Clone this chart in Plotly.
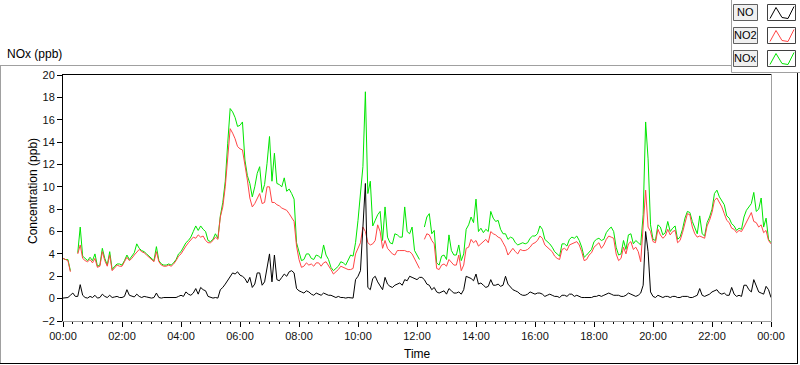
import pandas as pd
import plotly.graph_objects as go

# 5-minute samples, 00:00 -> 24:00 (289 points), one row per hour
times = pd.date_range("2024-01-01 00:00", "2024-01-02 00:00", freq="5min")

no2 = [
    3.6, 3.5, 3.4, 2.4, None, None, 4.0, 4.8, 3.6, 3.4, 3.3, 3.5,
    3.2, 3.6, 2.8, 2.9, 4.2, 3.4, 2.9, 3.9, 2.5, 2.8, 3.0, 2.9,
    2.9, 3.3, 3.7, 3.4, 3.6, 3.9, 4.2, 4.4, 4.2, 4.1, 3.9, 3.7,
    3.5, 3.3, 4.2, 3.3, 3.0, 2.9, 2.9, 3.0, 2.9, 3.1, 3.4, 3.8,
    4.0, 4.4, 4.7, 5.0, 5.3, 5.5, 5.4, 5.7, 5.5, 5.6, 5.2, 5.0,
    5.0, 5.2, 5.5, 5.3, 7.3, 8.2, 10.0, 12.7, 15.2, 14.8, 14.3, 13.6,
    13.4, 13.3, 12.1, 10.6, 9.0, 8.2, 8.5, 9.0, 9.4, 8.5, 8.6, 10.0,
    10.0, 8.6, 8.6, 8.4, 8.3, 8.1, 8.0, 7.9, 7.6, 7.3, 6.9, 4.7,
    3.5, 2.8, 2.9, 3.2, 3.0, 3.1, 2.9, 3.2, 3.2, 2.9, 3.2, 3.3,
    3.0, 2.6, 2.2, 2.4, 2.6, 2.9, 2.8, 2.7, 2.6, 2.6, 2.7, 4.0,
    4.5, 5.0, 6.4, 6.0, 5.0, 4.8, 4.9, 5.2, 6.6, 6.0, 4.5, 5.2,
    4.5, 4.2, 4.0, 3.9, 4.3, 4.3, 4.3, 4.3, 4.2, 4.2, 4.0, 3.6,
    3.2, 2.7, None, 5.3, 5.8, 5.7, 5.2, 4.9, 2.7, 2.6, 3.0, 3.1,
    2.9, 3.5, 3.2, 3.0, 3.0, 3.9, 2.5, 3.0, 4.5, 4.6, 5.3, 5.0,
    5.2, 4.7, 4.9, 5.1, 5.3, 5.0, 6.0, 5.8, 5.7, 5.5, 5.4, 5.0,
    4.6, 3.9, 4.2, 4.5, 4.2, 4.0, 4.4, 4.3, 4.3, 4.4, 4.6, 4.9,
    5.0, 5.2, 5.6, 5.4, 4.8, 4.6, 4.4, 4.2, 3.8, 3.6, 3.5, 4.4,
    4.5, 4.3, 4.8, 4.9, 5.0, 5.1, 4.8, 4.2, 3.4, 3.5, 3.9, 4.1,
    4.6, 4.8, 5.0, 4.5, 4.8, 5.3, 5.6, 5.5, 5.4, 4.0, 3.4, 3.6,
    4.6, 4.0, 4.9, 5.1, 4.4, 4.6, 4.2, 3.3, 6.2, 9.7, 6.4, 6.0,
    5.1, 5.0, 6.2, 5.7, 5.4, 5.6, 6.2, 5.7, 6.0, 6.1, 5.0, 5.2,
    5.9, 6.9, 7.6, 7.5, 6.4, 5.8, 5.5, 5.6, 5.5, 5.4, 6.5, 7.0,
    7.7, 8.8, 9.0, 8.6, 8.2, 7.6, 7.0, 6.8, 6.3, 6.2, 5.9, 6.1,
    6.0, 6.4, 6.8, 7.3, 7.7, 6.9, 6.8, 6.4, 6.6, 5.9, 6.1, 5.2,
    4.9]

nox = [
    3.6, 3.5, 3.5, 2.5, None, None, 4.1, 6.4, 3.8, 3.6, 3.4, 3.7,
    3.4, 4.0, 2.9, 3.0, 4.5, 3.6, 3.0, 4.2, 2.6, 2.9, 3.1, 3.1,
    3.0, 3.4, 3.9, 3.5, 3.8, 4.1, 4.9, 4.5, 4.3, 4.2, 4.0, 3.8,
    3.6, 3.4, 4.65, 3.4, 3.1, 3.0, 3.0, 3.1, 3.0, 3.2, 3.5, 4.0,
    4.2, 4.6, 5.0, 5.2, 5.5, 6.0, 6.5, 6.1, 6.5, 6.2, 6.0, 5.2,
    5.1, 5.3, 5.8, 5.4, 7.4, 8.6, 10.5, 13.9, 17.0, 16.7, 16.2, 15.4,
    15.5, 15.8, 12.4, 11.0, 10.3, 9.1, 10.0, 11.2, 11.8, 9.5, 10.2, 12.1,
    14.5, 10.5, 13.0, 10.3, 10.2, 10.0, 10.8, 9.6, 9.8, 9.4, 8.9, 5.0,
    4.2, 3.4, 3.5, 4.0, 4.0, 3.6, 3.5, 3.9, 3.8, 3.6, 4.8, 3.9,
    3.5, 2.8, 2.5, 2.7, 2.9, 3.3, 3.2, 3.0, 3.5, 3.9, 3.8, 5.0,
    7.0, 9.1, 11.8, 18.5, 9.4, 10.5, 6.5, 7.0, 7.5, 7.8, 5.2, 8.2,
    5.5, 5.0, 4.9, 5.8, 5.7, 5.5, 5.5, 8.2, 6.0, 5.8, 6.4, 4.3,
    3.9, 3.5, None, 6.4, 7.3, 7.6, 5.8, 6.1, 3.2, 3.0, 3.8, 3.9,
    3.5, 5.7, 4.3, 3.9, 3.9, 4.8, 3.4, 4.0, 6.2, 6.6, 7.3, 6.8,
    8.9, 6.0, 6.3, 5.9, 6.2, 6.0, 7.8, 7.2, 6.9, 7.0, 6.2, 5.8,
    5.8, 5.3, 5.5, 5.4, 5.0, 4.8, 4.9, 5.0, 4.9, 5.0, 5.4, 5.6,
    5.6, 5.8, 6.5, 6.2, 5.3, 5.1, 4.9, 4.6, 4.2, 4.0, 3.8, 4.9,
    4.9, 4.7, 5.3, 5.5, 5.4, 5.6, 5.2, 4.6, 3.7, 3.9, 4.2, 4.4,
    5.1, 5.3, 5.4, 5.2, 5.3, 5.9, 6.2, 6.4, 6.0, 4.6, 3.9, 4.0,
    5.2, 4.4, 5.7, 5.8, 4.9, 5.2, 5.0, 4.8, 7.5, 15.8, 12.5, 6.6,
    5.3, 5.2, 6.6, 6.4, 5.7, 5.9, 6.9, 6.0, 6.3, 6.5, 5.3, 5.5,
    6.2, 7.2, 7.8, 7.7, 6.9, 6.4, 5.8, 7.4, 5.8, 5.6, 6.8, 7.3,
    8.0, 9.4, 9.7, 9.1, 8.8, 8.4, 7.4, 7.2, 6.7, 6.5, 6.1, 6.3,
    6.2, 7.3, 7.9, 8.2, 8.5, 9.5, 7.8, 8.0, 9.0, 6.4, 7.2, 5.3,
    5.0]

no = [
    0.05, 0.1, 0.1, 0.3, 0.5, 0.2, 0.2, 1.25, 0.3, 0.1, 0.05, 0.2,
    0.1, 0.3, 0.05, 0.1, 0.4, 0.2, 0.1, 0.3, 0.1, 0.15, 0.2, 0.1,
    0.1, 0.2, 0.8, 0.3, 0.2, 0.15, 0.4, 0.2, 0.1, 0.2, 0.15, 0.1,
    0.05, 0.1, 0.5, 0.1, 0.05, 0.1, 0.1, 0.05, 0.05, 0.1, 0.1, 0.2,
    0.3, 0.2, 0.6, 0.4, 0.3, 0.5, 0.9, 0.4, 1.0, 0.8, 0.7, 0.2,
    0.1, 0.05, 0.1, 0.05, 0.8, 1.0, 1.3, 1.6, 1.9, 2.3, 2.2, 2.4,
    2.1, 2.0, 1.8, 1.4, 1.9, 1.0, 1.3, 2.3, 2.3, 1.2, 1.5, 2.6,
    4.0, 1.5, 3.9, 1.7, 1.6, 1.9, 2.2, 2.0, 2.4, 2.5, 2.3, 0.9,
    0.7, 0.6, 0.5, 0.7, 0.6, 0.4, 0.3, 0.5, 0.4, 0.3, 0.5, 0.4,
    0.3, 0.3, 0.2, 0.1, 0.2, 0.1, 0.1, 0.05, 0.1, 0.1, 0.05, 1.7,
    2.0, 2.5, 6.9, 10.3, 1.0, 0.8, 1.8, 2.0, 1.5, 1.2, 0.8, 1.9,
    1.3, 1.1, 1.0, 1.2, 1.3, 1.4, 1.2, 1.7, 1.6, 2.0, 1.9, 1.8,
    1.7, 1.9, 1.9, 1.7, 1.3, 1.2, 0.8, 1.0, 0.6, 0.5, 0.6, 0.7,
    0.4, 0.9, 0.7, 0.5, 0.5, 0.6, 0.4, 0.8, 2.0, 1.9, 1.8, 1.6,
    2.2, 1.3, 1.4, 1.2, 1.0, 1.1, 1.7, 1.2, 1.2, 1.3, 1.1, 1.2,
    2.0, 1.3, 1.0, 0.8, 0.7, 0.6, 0.4, 0.3, 0.3, 0.4, 0.6, 0.5,
    0.4, 0.5, 0.5, 0.4, 0.2, 0.3, 0.4, 0.3, 0.2, 0.2, 0.1, 0.3,
    0.3, 0.2, 0.4, 0.4, 0.2, 0.3, 0.2, 0.1, 0.1, 0.1, 0.05, 0.1,
    0.2, 0.2, 0.3, 0.2, 0.3, 0.4, 0.5, 0.4, 0.3, 0.3, 0.3, 0.2,
    0.2, 0.3, 0.5, 0.4, 0.3, 0.2, 0.3, 0.5, 1.2, 6.0, 4.2, 0.6,
    0.2, 0.1, 0.3, 0.2, 0.1, 0.2, 0.2, 0.1, 0.2, 0.2, 0.1, 0.1,
    0.2, 0.2, 0.2, 0.1, 0.1, 0.2, 0.3, 0.9, 0.3, 0.2, 0.3, 0.4,
    0.6, 0.7, 0.8, 0.5, 0.4, 0.5, 0.3, 0.3, 1.0, 0.4, 0.2, 0.3,
    0.2, 1.2, 1.2, 0.8, 0.6, 1.7, 1.1, 0.6, 0.5, 0.4, 1.1, 0.8,
    0.1]

x_tick_labels = ["00:00", "02:00", "04:00", "06:00", "08:00", "10:00", "12:00",
                 "14:00", "16:00", "18:00", "20:00", "22:00", "00:00"]
x_tick_vals = pd.date_range("2024-01-01 00:00", "2024-01-02 00:00", freq="2h")
legend_names = ["NO", "NO2", "NOx"]

W, H = 800, 365
L, R, T, B = 63, 771, 75, 321


def px(x):
    return (x - L) / (R - L)


def py(y):
    return (B - y) / (B - T)


FONT = "Liberation Sans"

fig = go.Figure()
fig.add_trace(go.Scatter(x=times, y=nox, mode="lines", name="NOx",
                         line=dict(color="#00e600", width=1)))
fig.add_trace(go.Scatter(x=times, y=no2, mode="lines", name="NO2",
                         line=dict(color="#ff4545", width=1)))
fig.add_trace(go.Scatter(x=times, y=no, mode="lines", name="NO",
                         line=dict(color="#000000", width=1)))

fig.update_layout(
    width=W, height=H,
    margin=dict(l=L, r=W - R, t=T, b=H - B),
    paper_bgcolor="white", plot_bgcolor="white",
    showlegend=False,
    font=dict(family=FONT, size=11, color="#111"),
)
fig.update_xaxes(
    type="date", range=[times[0], times[-1]],
    tickvals=x_tick_vals, ticktext=x_tick_labels,
    ticks="outside", ticklen=5, tickcolor="#000", tickwidth=1,
    minor=dict(ticks="outside", ticklen=2, dtick=20 * 60 * 1000, tickcolor="#000"),
    showgrid=False, zeroline=False,
    showline=True, linecolor="#a0a0a0", linewidth=1,
    tickfont=dict(size=11, family=FONT),
)
fig.update_yaxes(
    range=[-2, 20], tick0=0, dtick=2,
    ticks="outside", ticklen=5, tickcolor="#000",
    showgrid=False, zeroline=False,
    showline=True, linecolor="#000", linewidth=1,
    tickfont=dict(size=11, family=FONT),
)

shapes = []
# plot frame: top black, right grey
shapes.append(dict(type="line", xref="paper", yref="paper", x0=px(62), x1=px(771.5),
                   y0=py(74.5), y1=py(74.5), line=dict(color="#000", width=1)))
shapes.append(dict(type="line", xref="paper", yref="paper", x0=px(771.5), x1=px(771.5),
                   y0=py(74.5), y1=py(321.5), line=dict(color="#a0a0a0", width=1)))
# outer panel
shapes.append(dict(type="line", xref="paper", yref="paper", x0=px(0), x1=px(731.5),
                   y0=py(65.5), y1=py(65.5), line=dict(color="#a0a0a0", width=1)))
shapes.append(dict(type="line", xref="paper", yref="paper", x0=px(0.5), x1=px(0.5),
                   y0=py(65.5), y1=py(363), line=dict(color="#a0a0a0", width=1)))
shapes.append(dict(type="line", xref="paper", yref="paper", x0=px(0), x1=px(798),
                   y0=py(363.5), y1=py(363.5), line=dict(color="#000", width=1)))
shapes.append(dict(type="line", xref="paper", yref="paper", x0=px(797.5), x1=px(797.5),
                   y0=py(72.5), y1=py(363.5), line=dict(color="#000", width=1)))
# legend container
shapes.append(dict(type="line", xref="paper", yref="paper", x0=px(731.5), x1=px(731.5),
                   y0=py(0), y1=py(72.5), line=dict(color="#a0a0a0", width=1)))
shapes.append(dict(type="line", xref="paper", yref="paper", x0=px(731.5), x1=px(800),
                   y0=py(72.5), y1=py(72.5), line=dict(color="#a0a0a0", width=1)))

annotations = []
legend_colors = ["#000000", "#ff4545", "#00e600"]
row_tops = [4.5, 27.5, 50.5]
for name, col, yt in zip(legend_names, legend_colors, row_tops):
    yb = yt + 16
    shapes.append(dict(type="rect", xref="paper", yref="paper", x0=px(733.5), x1=px(757.5),
                       y0=py(yb), y1=py(yt), fillcolor="#f0f0f0",
                       line=dict(color="#606060", width=1)))
    shapes.append(dict(type="rect", xref="paper", yref="paper", x0=px(767.5), x1=px(795.5),
                       y0=py(yb), y1=py(yt), fillcolor="#ffffff",
                       line=dict(color="#404040", width=1)))
    zx = [770, 776, 782, 788, 794]
    zy = [yb - 2, yt + 3, yb - 3, yb - 2, yt + 2]
    path = "M " + " L ".join(f"{px(a)},{py(b)}" for a, b in zip(zx, zy))
    shapes.append(dict(type="path", xref="paper", yref="paper", path=path,
                       line=dict(color=col, width=1)))
    annotations.append(dict(text=name, xref="paper", yref="paper",
                            x=px(745.5), y=py((yt + yb) / 2), showarrow=False,
                            xanchor="center", yanchor="middle",
                            font=dict(size=11, family=FONT, color="#000")))

annotations.append(dict(text="NOx (ppb)", xref="paper", yref="paper", x=px(5), y=py(54),
                        xanchor="left", yanchor="middle", showarrow=False,
                        font=dict(size=12, family=FONT, color="#000")))
annotations.append(dict(text="Concentration (ppb)", xref="paper", yref="paper",
                        x=px(33), y=py(191), textangle=-90, xanchor="center",
                        yanchor="middle", showarrow=False,
                        font=dict(size=12, family=FONT, color="#000")))
annotations.append(dict(text="Time", xref="paper", yref="paper", x=px(417), y=py(354),
                        xanchor="center", yanchor="middle", showarrow=False,
                        font=dict(size=12, family=FONT, color="#000")))

fig.update_layout(shapes=shapes, annotations=annotations)
fig.write_html("out.html", config={"displayModeBar": False},
               post_script="document.body.style.margin='0px';document.body.style.overflow='hidden';")
